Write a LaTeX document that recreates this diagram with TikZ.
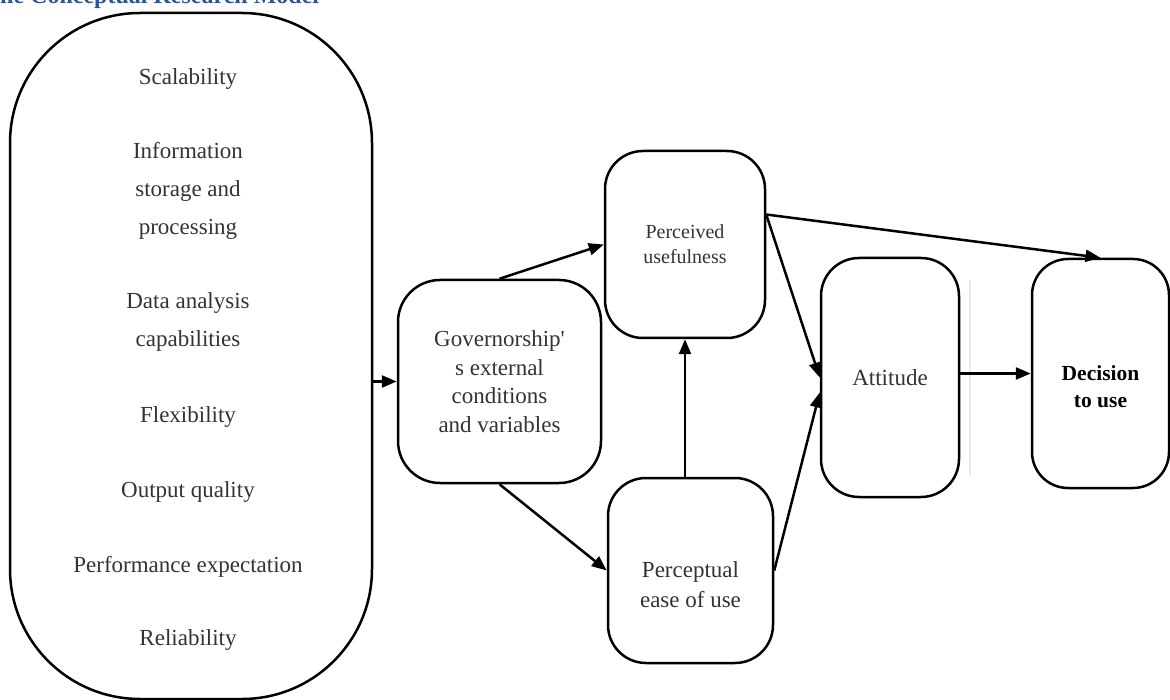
\documentclass[tikz,border=0pt]{standalone}
\usepackage{fontspec}
\setmainfont{Liberation Serif}
\usetikzlibrary{shapes,arrows.meta,positioning,calc}
\definecolor{titleblue}{RGB}{47,84,150}
\definecolor{txtgray}{RGB}{51,51,51}
\tikzset{box/.style={draw, line width=2.5pt, rounded corners=38pt, align=center,
    inner sep=0pt, text=txtgray, font=\fontsize{23}{28.5}\selectfont},
  factor/.style={text=txtgray, align=center, font=\fontsize{23}{38}\selectfont}
}

\begin{document}
\begin{tikzpicture}[x=1pt, y=-1pt, > = {Triangle[length=15pt,width=12pt]}, line width=2.5pt]
  \clip (0,0) rectangle (1170,700);
  \node[anchor=base west, inner sep=0pt, text=titleblue, font=\fontsize{24}{28}\selectfont\bfseries] (title) at (-1,4) {he Conceptual Research Model};

  % factors
  \node[box, rounded corners=130pt, minimum width=362pt, minimum height=686pt] (ext) at (191,356) {};
  \foreach \y/\txt [count=\i] in {79/Scalability, 191/{Information\\storage and\\processing},
      322/{Data analysis\\capabilities}, 417/Flexibility, 492/Output quality,
      567/Performance expectation, 640/Reliability}
    \node[factor] (f_\i) at (188,\y) {\txt};

  % TAM boxes
  \node[box, minimum width=203pt, minimum height=203pt, rounded corners=42pt] (gov) at (499.5,381.5) {Governorship\textquotesingle\\s external\\conditions\\and variables};
  \node[box, minimum width=160pt, minimum height=187pt, font=\fontsize{20}{25}\selectfont] (pu) at (685,244.5) {Perceived\\usefulness};
  \node[box, minimum width=165pt, minimum height=185pt] (peou) at (690.5,570.5) {};
  \node[factor, font=\fontsize{23}{30}\selectfont] (peou_txt) at (690.5,585) {Perceptual\\ease of use};
  \node[box, minimum width=138pt, minimum height=239pt] (att) at (890,377.5) {Attitude};
  \node[box, minimum width=137pt, minimum height=229pt, rounded corners=36pt] (dec) at (1100.5,373.5) {};
  \node[align=center, text=black, font=\fontsize{21.5}{27}\selectfont\bfseries] (dec_txt) at (1100.5,386.5) {Decision\\to use};

  \draw[black!8, line width=1.5pt] (970,280) -- (970,475);

  \draw[->] (gov.west -| ext.east) -- (gov.west);
  \draw[->] (gov.north) -- (pu.west);
  \draw[->] (gov.south) -- (peou.west);
  \draw[->] (peou.north -| pu.south) -- (pu.south);
  \coordinate (pu_out) at ($(pu.east)+(0,-30)$);
  \draw[->] (pu_out) -- (dec.north);
  \draw[->] (pu_out) -- (att.west);
  \draw[->] (peou.east) -- ($(att.west)+(0,15)$);
  \draw[->] (att.east |- dec.west) -- (dec.west);
\end{tikzpicture}
\end{document}
